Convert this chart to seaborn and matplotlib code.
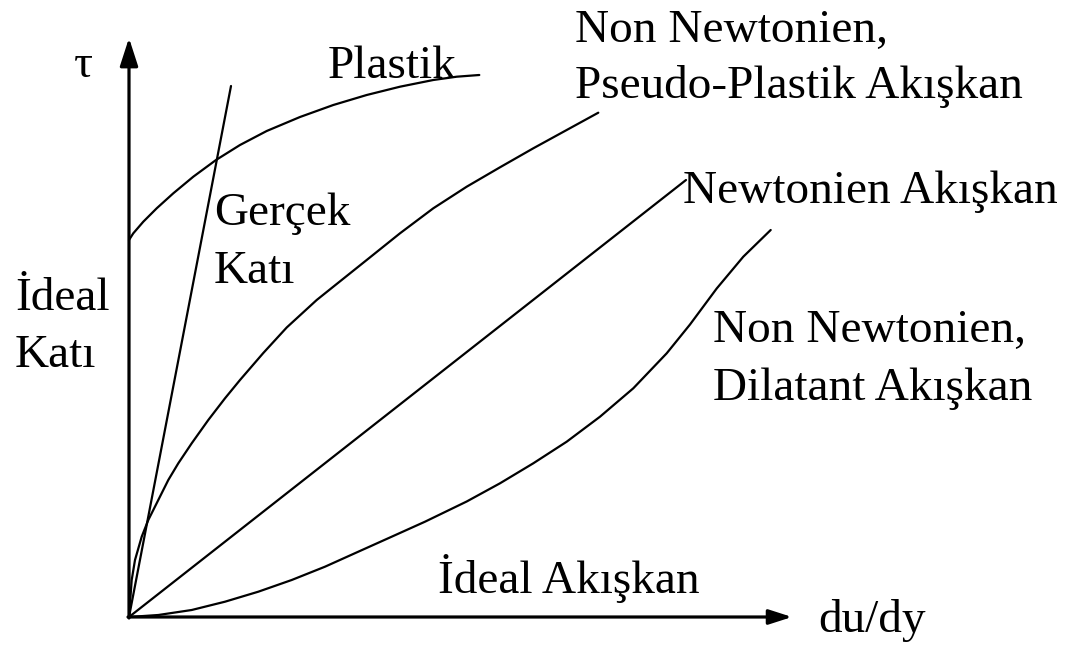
import numpy as np
import pandas as pd
import matplotlib
matplotlib.use("Agg")
import matplotlib.pyplot as plt
import seaborn as sns

# curves (x = du/dy, y = tau), arbitrary units
gercek_x = [0, 1.02]
gercek_y = [0, 5.31]

plastik_x = [0, 0.043, 0.143, 0.277, 0.443, 0.643, 0.87, 1.11, 1.377, 1.71,
             2.043, 2.377, 2.71, 3.043, 3.277, 3.503]
plastik_y = [3.77, 3.837, 3.953, 4.087, 4.237, 4.403, 4.57, 4.72, 4.86, 5.0,
             5.12, 5.22, 5.303, 5.37, 5.403, 5.42]

pseudo_x = [0, 0.027, 0.06, 0.127, 0.193, 0.293, 0.393, 0.493, 0.627, 0.793,
            0.96, 1.11, 1.343, 1.577, 1.877, 2.043, 2.377, 2.71, 3.043, 3.377,
            3.71, 4.043, 4.377, 4.693]
pseudo_y = [0, 0.37, 0.57, 0.803, 0.97, 1.17, 1.37, 1.537, 1.737, 1.97,
            2.187, 2.37, 2.64, 2.895, 3.17, 3.303, 3.57, 3.837, 4.087, 4.303,
            4.497, 4.687, 4.87, 5.043]

newton_x = [0, 5.57]
newton_y = [0, 4.37]

dilatant_x = [0, 0.293, 0.627, 0.96, 1.293, 1.627, 1.96, 2.293, 2.627, 2.96,
              3.377, 3.71, 4.043, 4.377, 4.71, 5.043, 5.377, 5.61, 5.877,
              6.143, 6.417]
dilatant_y = [0, 0.02, 0.07, 0.153, 0.253, 0.37, 0.503, 0.653, 0.803, 0.953,
              1.155, 1.337, 1.537, 1.753, 2.003, 2.287, 2.637, 2.925, 3.285,
              3.603, 3.87]

x_axis_end = 6.63
y_axis_end = 5.79

sns.set_style("white")
plt.rcParams['font.family'] = ['Liberation Serif', 'DejaVu Serif']

fig = plt.figure(figsize=(10.67, 6.5), dpi=100)
ax = fig.add_axes([0, 0, 1, 1])
ax.set_xlim(-1.29, 9.38)
ax.set_ylim(-0.33, 6.17)
ax.axis("off")

curves = [(gercek_x, gercek_y), (plastik_x, plastik_y), (pseudo_x, pseudo_y),
          (newton_x, newton_y), (dilatant_x, dilatant_y)]
for cx, cy in curves:
    df = pd.DataFrame({"x": cx, "y": cy})
    sns.lineplot(data=df, x="x", y="y", ax=ax, color="black", lw=1.6,
                 sort=False, estimator=None)

# axes with arrow heads
ax.annotate("", xy=(x_axis_end, 0), xytext=(-0.01, 0),
            arrowprops=dict(arrowstyle="-|>,head_length=1.4,head_width=0.45",
                            color="black", lw=2.3, shrinkA=0, shrinkB=0))
ax.annotate("", xy=(0, y_axis_end), xytext=(0, -0.01),
            arrowprops=dict(arrowstyle="-|>,head_length=1.7,head_width=0.55",
                            color="black", lw=2.3, shrinkA=0, shrinkB=0))

fs = 34
def px(x, y):
    return (x - 129) / 100, (617 - y) / 100

labels = [
    ("τ", 74, 77),
    ("Plastik", 328, 78),
    ("Non Newtonien,", 575, 42),
    ("Pseudo-Plastik Akışkan", 575, 98),
    ("Gerçek", 214, 225),
    ("Katı", 214, 283),
    ("Newtonien Akışkan", 683, 203),
    ("İdeal", 15, 310),
    ("Katı", 15, 367),
    ("Non Newtonien,", 713, 342),
    ("Dilatant Akışkan", 713, 400),
    ("İdeal Akışkan", 438, 593),
    ("du/dy", 818, 632),
]
for txt, lx, ly in labels:
    tx, ty = px(lx, ly)
    ax.text(tx, ty, txt, fontsize=fs, ha="left", va="baseline", color="black")

fig.savefig("out.png", dpi=100)
